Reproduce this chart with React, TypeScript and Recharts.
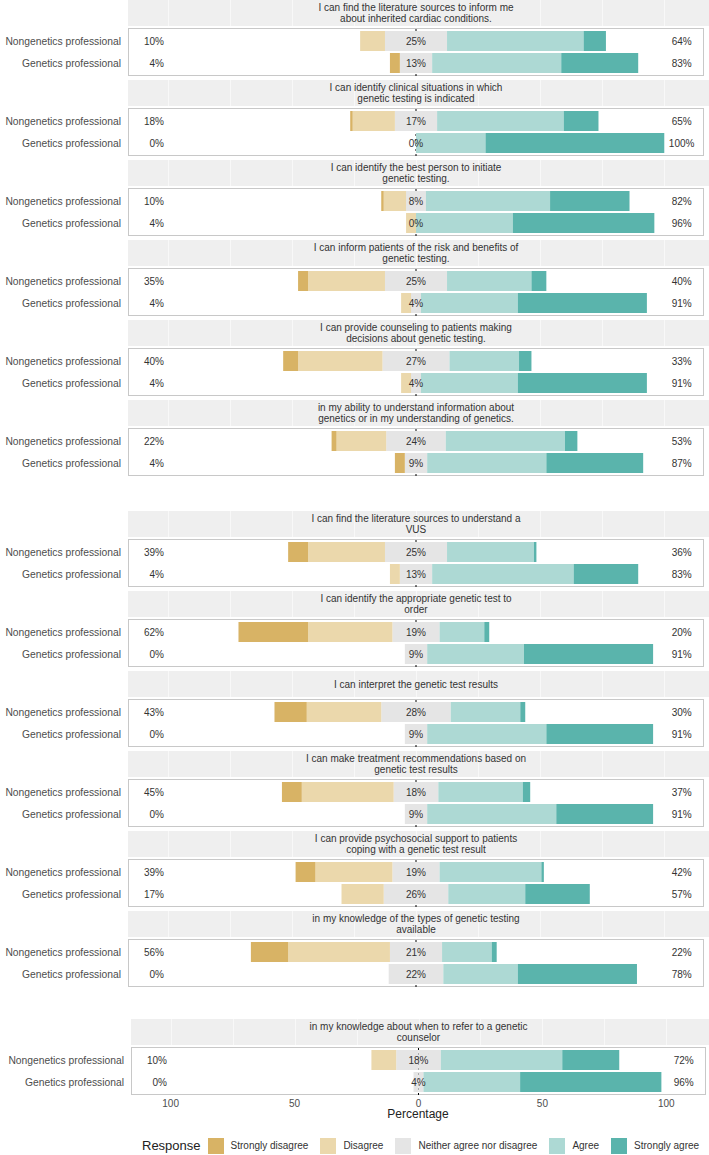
import React from "react";
import { BarChart, Bar, XAxis, YAxis, ReferenceLine, ReferenceDot } from "recharts";

const groups = ["Nongenetics professional", "Genetics professional"];

const questions = [
  "I can find the literature sources to inform me\nabout inherited cardiac conditions.",
  "I can identify clinical situations in which\ngenetic testing is indicated",
  "I can identify the best person to initiate\ngenetic testing.",
  "I can inform patients of the risk and benefits of\ngenetic testing.",
  "I can provide counseling to patients making\ndecisions about genetic testing.",
  "in my ability to understand information about\ngenetics or in my understanding of genetics.",
  "I can find the literature sources to understand a\nVUS",
  "I can identify the appropriate genetic test to\norder",
  "I can interpret the genetic test results",
  "I can make treatment recommendations based on\ngenetic test results",
  "I can provide psychosocial support to patients\ncoping with a genetic test result",
  "in my knowledge of the types of genetic testing\navailable",
  "in my knowledge about when to refer to a genetic\ncounselor",
];

// Nongenetics professional (%)
const nonStronglyDisagree = [0, 1, 1, 4, 6, 2, 8, 28, 13, 8, 8, 15, 0];
const nonDisagree = [10, 17, 9, 31, 34, 20, 31, 34, 30, 37, 31, 41, 10];
const nonNeutral = [25, 17, 8, 25, 27, 24, 25, 19, 28, 18, 19, 21, 18];
const nonAgree = [55, 51, 50, 34, 28, 48, 35, 18, 28, 34, 41, 20, 49];
const nonStronglyAgree = [9, 14, 32, 6, 5, 5, 1, 2, 2, 3, 1, 2, 23];

// Genetics professional (%)
const genStronglyDisagree = [4, 0, 0, 0, 0, 4, 0, 0, 0, 0, 0, 0, 0];
const genDisagree = [0, 0, 4, 4, 4, 0, 4, 0, 0, 0, 17, 0, 0];
const genNeutral = [13, 0, 0, 4, 4, 9, 13, 9, 9, 9, 26, 22, 4];
const genAgree = [52, 28, 39, 39, 39, 48, 57, 39, 48, 52, 31, 30, 39];
const genStronglyAgree = [31, 72, 57, 52, 52, 39, 26, 52, 43, 39, 26, 48, 57];

const responses = ["Strongly disagree", "Disagree", "Neither agree nor disagree", "Agree", "Strongly agree"];
const colors = ["#D8B365", "#EBD8AC", "#E5E5E5", "#ADD9D4", "#5AB4AC"];

const xTicks = [-100, -50, 0, 50, 100];
const gridTicks = [-100, -75, -50, -25, 0, 25, 50, 75, 100];
const DOMAIN = 116;

// which block each question sits in, and where the blocks start
const blockOf = [0, 0, 0, 0, 0, 0, 1, 1, 1, 1, 1, 1, 2];
const blockTop = [0, 511, 1019];
const PITCH = 80;

const STRIP = "#efefef";
const TEXT = "#333";

function rowsFor(q: number) {
  const src = [
    [nonStronglyDisagree, nonDisagree, nonNeutral, nonAgree, nonStronglyAgree],
    [genStronglyDisagree, genDisagree, genNeutral, genAgree, genStronglyAgree],
  ];
  return groups.map((g, gi) => {
    const [sd, d, n, a, sa] = src[gi].map((arr) => arr[q]);
    return {
      group: g,
      nNeg: -n / 2,
      nPos: n / 2,
      d: -d,
      a: a,
      sd: -sd,
      sa: sa,
      leftTxt: `${sd + d}%`,
      midTxt: `${n}%`,
      rightTxt: `${a + sa}%`,
    };
  });
}

const textShape = (txt: string, anchor: string) => (p: any) => (
  <text x={p.cx} y={p.cy} dy="0.35em" textAnchor={anchor} fontSize={10} fill={TEXT}>
    {txt}
  </text>
);

const GroupTick = (p: any) => (
  <text x={p.x} y={p.y} dy="0.35em" textAnchor="end" fontSize={10.3} fill="#4d4d4d">
    {p.payload.value}
  </text>
);

function Panel({ q }: { q: number }) {
  const last = blockOf[q] === 2;
  const top = blockTop[blockOf[q]] + PITCH * (blockOf[q] === 1 ? q - 6 : blockOf[q] === 2 ? 0 : q);
  const left = last ? 131 : 128;
  const width = last ? 706 : 704;
  const plotW = width - left;
  const rows = rowsFor(q);
  const toPx = (v: number) => left + ((v + DOMAIN) / (2 * DOMAIN)) * plotW;

  return (
    <>
      <div style={{ position: "absolute", left, top, width: 709 - left, height: 26, background: STRIP }}>
        {gridTicks.map((t) => (
          <div
            key={t}
            style={{ position: "absolute", left: toPx(t) - left, top: 0, width: 1, height: 26, background: "#f8f8f8" }}
          />
        ))}
      </div>
      <div
        style={{
          position: "absolute",
          left,
          top,
          width: plotW,
          height: 26,
          display: "flex",
          alignItems: "center",
          justifyContent: "center",
          textAlign: "center",
          whiteSpace: "pre-line",
          fontSize: 10,
          lineHeight: "11px",
          color: TEXT,
        }}
      >
        {questions[q]}
      </div>
      <div
        style={{
          position: "absolute",
          left,
          top: top + 28,
          width: plotW,
          height: 48,
          border: "1.5px solid #c8c8c8",
          boxSizing: "border-box",
          background: "#fff",
        }}
      />
      <div style={{ position: "absolute", left: 0, top: top + 28 }}>
        <BarChart
          width={width}
          height={last ? 48 + 26 : 48}
          data={rows}
          layout="vertical"
          stackOffset="sign"
          margin={{ top: 0, right: 0, bottom: 0, left: 0 }}
        >
          <XAxis
            type="number"
            domain={[-DOMAIN, DOMAIN]}
            hide={!last}
            ticks={xTicks}
            tickFormatter={(v: number) => String(Math.abs(v))}
            axisLine={false}
            tickLine={false}
            tickSize={0}
            tickMargin={5}
            height={26}
            tick={{ fontSize: 10, fill: "#4d4d4d" }}
            interval={0}
          />
          <YAxis
            type="category"
            dataKey="group"
            width={left}
            axisLine={false}
            tickLine={false}
            tickSize={0}
            tickMargin={7}
            padding={{ top: 2, bottom: 2 }}
            tick={GroupTick}
            interval={0}
          />
          <ReferenceLine x={0} stroke="#000" strokeWidth={1} strokeDasharray="2 3" zIndex={100} />
          <Bar dataKey="nNeg" stackId="s" fill={colors[2]} barSize={20} isAnimationActive={false} />
          <Bar dataKey="nPos" stackId="s" fill={colors[2]} barSize={20} isAnimationActive={false} />
          <Bar dataKey="d" stackId="s" fill={colors[1]} barSize={20} isAnimationActive={false} />
          <Bar dataKey="a" stackId="s" fill={colors[3]} barSize={20} isAnimationActive={false} />
          <Bar dataKey="sd" stackId="s" fill={colors[0]} barSize={20} isAnimationActive={false} />
          <Bar dataKey="sa" stackId="s" fill={colors[4]} barSize={20} isAnimationActive={false} />
          {rows.map((r) => (
            <ReferenceDot key={"l" + r.group} x={-101.5} y={r.group} r={0} zIndex={2000} shape={textShape(r.leftTxt, "end")} />
          ))}
          {rows.map((r) => (
            <ReferenceDot key={"m" + r.group} x={0} y={r.group} r={0} zIndex={2000} shape={textShape(r.midTxt, "middle")} />
          ))}
          {rows.map((r) => (
            <ReferenceDot key={"r" + r.group} x={107} y={r.group} r={0} zIndex={2000} shape={textShape(r.rightTxt, "middle")} />
          ))}
        </BarChart>
      </div>
    </>
  );
}

export default function App() {
  return (
    <div
      style={{
        position: "absolute",
        left: 0,
        top: 0,
        width: 709,
        height: 1155,
        background: "#fff",
        overflow: "hidden",
        fontFamily: "'Liberation Sans', Arial, sans-serif",
      }}
    >
      {questions.map((_, q) => (
        <Panel key={q} q={q} />
      ))}
      <div
        style={{
          position: "absolute",
          left: 318,
          width: 200,
          top: 1107,
          textAlign: "center",
          fontSize: 12,
          lineHeight: "14px",
          color: "#222",
        }}
      >
        Percentage
      </div>
      <div
        style={{
          position: "absolute",
          left: 142,
          top: 1137,
          height: 17,
          display: "flex",
          alignItems: "center",
          whiteSpace: "nowrap",
        }}
      >
        <span style={{ fontSize: 13, color: "#222", marginRight: 7 }}>Response</span>
        {responses.map((r, i) => (
          <React.Fragment key={r}>
            <span style={{ display: "inline-block", width: 16, height: 16, background: colors[i], marginRight: 7 }} />
            <span style={{ fontSize: 10, color: TEXT, marginRight: i < responses.length - 1 ? 12 : 0 }}>{r}</span>
          </React.Fragment>
        ))}
      </div>
    </div>
  );
}
